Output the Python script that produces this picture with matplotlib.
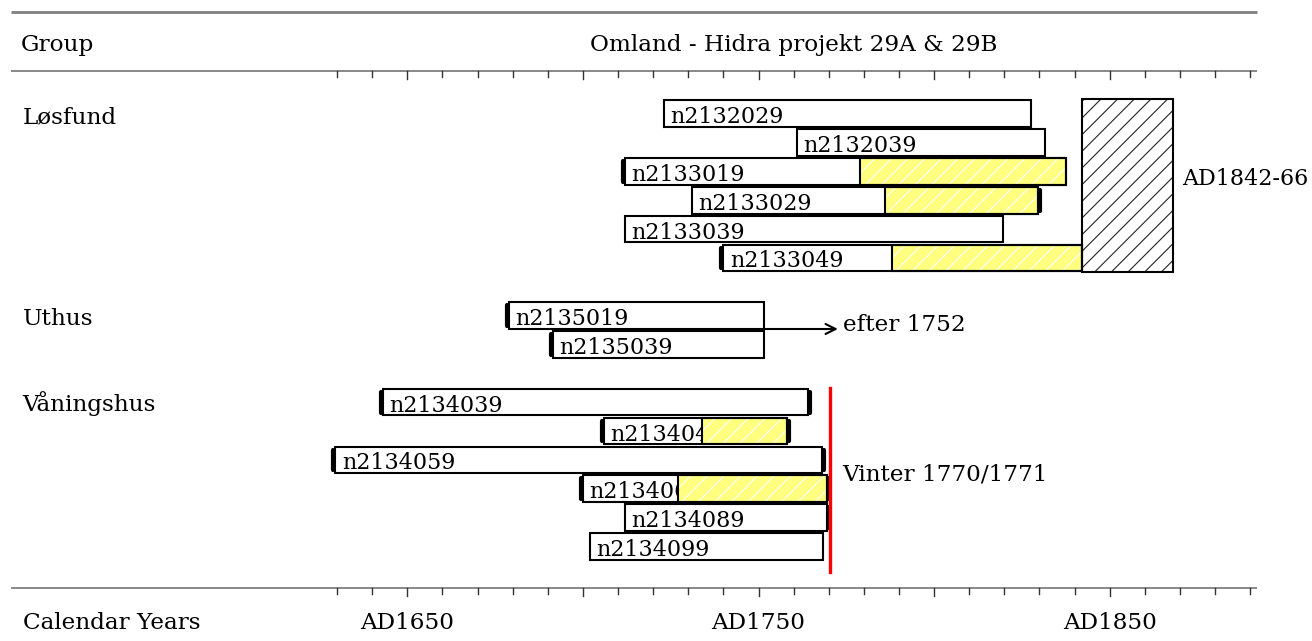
import matplotlib
matplotlib.use("Agg")
import matplotlib.pyplot as plt
from matplotlib.patches import Rectangle

plt.rcParams['font.family'] = ['DejaVu Serif']
plt.rcParams['hatch.linewidth'] = 0.8

# ---------------- data ----------------
title = "Omland - Hidra projekt 29A & 29B"
groups = ["Løsfund", "Uthus", "Våningshus"]
group_rows = [0, 7, 10]

sample_names = ["n2132029", "n2132039", "n2133019", "n2133029", "n2133039", "n2133049",
                "n2135019", "n2135039",
                "n2134039", "n2134049", "n2134059", "n2134069", "n2134089", "n2134099"]
sample_rows = [0, 1, 2, 3, 4, 5, 7, 8, 10, 11, 12, 13, 14, 15]
start_years = [1723.0, 1761.0, 1712.0, 1731.0, 1712.0, 1740.0,
               1679.0, 1691.5,
               1643.0, 1706.0, 1629.5, 1700.0, 1712.0, 1702.0]
end_years = [1827.5, 1831.5, 1837.5, 1829.5, 1819.5, 1842.0,
             1751.5, 1751.5,
             1764.0, 1758.0, 1768.0, 1769.5, 1769.5, 1768.5]
sapwood_start = [None, None, 1779.0, 1786.0, None, 1788.0,
                 None, None,
                 None, 1734.0, None, 1727.0, None, None]
mark_left = [False, False, True, False, False, True,
             True, True,
             True, True, True, True, False, False]
mark_right = [False, False, False, True, False, False,
              False, False,
              True, True, True, True, True, False]

felling_range = (1842.0, 1868.0)
felling_label = "AD1842-66"
after_year = 1772.6
after_label = "efter 1752"
winter_year = 1770.5
winter_label = "Vinter 1770/1771"

axis_start, axis_end = 1630, 1890
tick_labels = ["AD1650", "AD1750", "AD1850"]
tick_label_years = [1650, 1750, 1850]

# ---------------- layout ----------------
W, H = 1312, 641
X1650, PXY = 407.3, 3.512
ROW0, ROWH = 113.7, 28.85

def xd(px):
    return 1650 + (px - X1650) / PXY

def yd(py):
    return (py - ROW0) / ROWH

fig = plt.figure(figsize=(W / 100, H / 100), dpi=100)
ax = fig.add_axes([0, 0, 1, 1])
ax.set_xlim(xd(0), xd(W))
ax.set_ylim(yd(H), yd(0))
ax.axis('off')

FS = 16
FS2 = 16.7
BAR_H = 0.92
LW = 1.5
GRAY = '#7f7f7f'

# header & axis lines
xl, xr = xd(10.5), xd(1257)
ax.plot([xl, xr], [yd(11.7)] * 2, color=GRAY, lw=2.0, solid_capstyle='butt')
for yline in (yd(71), yd(588.3)):
    ax.plot([xl, xr], [yline] * 2, color=GRAY, lw=1.3, solid_capstyle='butt')
    for yr in range(axis_start, axis_end + 1, 10):
        ln = 8 if yr % 50 == 0 else 5.5
        ax.plot([yr, yr], [yline, yline + ln / ROWH], color='#333333', lw=1.0)

ax.text(xd(21), yd(45), "Group", fontsize=FS2, va='center', ha='left')
ax.text((axis_start + axis_end) / 2, yd(45), title, fontsize=FS2, va='center', ha='center')
ax.text(xd(23), yd(622.5), "Calendar Years", fontsize=FS2, va='center', ha='left')
for yr, lab in zip(tick_label_years, tick_labels):
    ax.text(yr, yd(622.5), lab, fontsize=FS2, va='center', ha='center')

for g, r in zip(groups, group_rows):
    ax.text(xd(22.5), r + 0.32, g, fontsize=FS2, va='baseline', ha='left')

# bars
brk = 4.0 / PXY
for name, r, s, e, sw, ml, mr in zip(sample_names, sample_rows, start_years, end_years,
                                      sapwood_start, mark_left, mark_right):
    y0 = r - BAR_H / 2
    ax.add_patch(Rectangle((s, y0), e - s, BAR_H, facecolor='white', edgecolor='none', zorder=1))
    ax.text(s + 6.5 / PXY, r + 0.33, name, fontsize=FS, va='baseline', ha='left', zorder=2)
    if sw is not None:
        ax.add_patch(Rectangle((sw, y0), e - sw, BAR_H, facecolor='#ffff80', edgecolor='white',
                               lw=0, hatch='//', zorder=3))
        ax.add_patch(Rectangle((sw, y0), e - sw, BAR_H, fill=False, edgecolor='black', lw=LW, zorder=4))
    ax.add_patch(Rectangle((s, y0), e - s, BAR_H, fill=False, edgecolor='black', lw=LW, zorder=4))
    if ml:
        ax.plot([s - brk / 2] * 2, [r - 0.36, r + 0.36], color='black', lw=3,
                solid_capstyle='round', zorder=5)
    if mr:
        ax.plot([e + brk / 2] * 2, [r - 0.36, r + 0.36], color='black', lw=3,
                solid_capstyle='round', zorder=5)

# felling date box for Løsfund
fy0, fy1 = group_rows[0] - 0.52, 5 + 0.47
ax.add_patch(Rectangle((felling_range[0], fy0), felling_range[1] - felling_range[0], fy1 - fy0,
                       facecolor='white', edgecolor='#222222', lw=0, hatch='//', zorder=3))
ax.add_patch(Rectangle((felling_range[0], fy0), felling_range[1] - felling_range[0], fy1 - fy0,
                       fill=False, edgecolor='black', lw=LW, zorder=4))
ax.text(felling_range[1] + 9.5 / PXY, yd(179), felling_label, fontsize=FS, va='center', ha='left')

# Uthus arrow
ay = yd(329)
ax.annotate('', xy=(after_year, ay), xytext=(end_years[6], ay),
            arrowprops=dict(arrowstyle='->', lw=1.5, color='black',
                            shrinkA=0, shrinkB=0, mutation_scale=18))
ax.text(after_year + 1.5, yd(325), after_label, fontsize=FS2, va='center', ha='left')

# Våningshus felling line
ax.plot([winter_year] * 2, [yd(388), yd(571.7)], color='#ff0000', lw=2.4, zorder=6)
ax.text(winter_year + 11.5 / PXY, yd(474.5), winter_label, fontsize=FS2, va='center', ha='left')

fig.savefig("out.png", dpi=100)
